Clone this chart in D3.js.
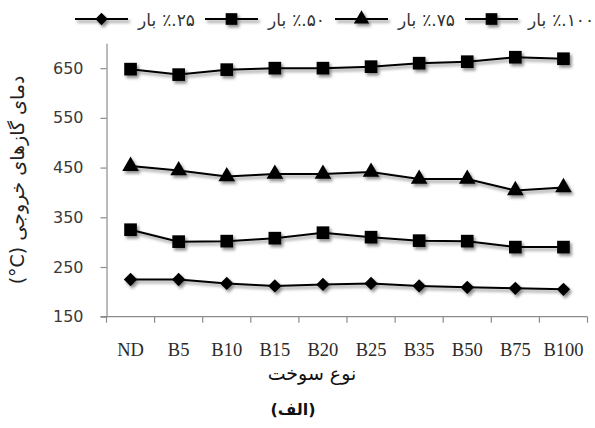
<!DOCTYPE html>
<html>
<head>
<meta charset="utf-8">
<script src="https://cdn.jsdelivr.net/npm/d3@7"></script>
<style>
  html, body { margin: 0; padding: 0; background: #fff; }
  svg { display: block; }
</style>
</head>
<body>
<svg id="chart" width="595" height="428"></svg>
<script>
// Fuel blends on the x axis
const categories = ["ND", "B5", "B10", "B15", "B20", "B25", "B35", "B50", "B75", "B100"];

// Exhaust gas temperature (°C) at each engine load
const load25  = [225, 225, 217, 212, 215, 217, 212, 209, 207, 205];
const load50  = [325, 301, 302, 308, 319, 310, 303, 302, 290, 290];
const load75  = [453, 444, 432, 437, 437, 441, 427, 427, 404, 410];
const load100 = [648, 637, 647, 650, 650, 653, 660, 663, 672, 669];

// Legend labels: word and percentage drawn side by side
const legendWords   = ["بار", "بار", "بار", "بار"];
const legendPercent = ["٪.۲۵", "٪.۵۰", "٪.۷۵", "٪.۱۰۰"];

const yTicks = [150, 250, 350, 450, 550, 650];

const series = [
  { values: load25,  symbol: d3.symbolDiamond2, size: 115 },
  { values: load50,  symbol: d3.symbolSquare,   size: 160 },
  { values: load75,  symbol: d3.symbolTriangle, size: 120 },
  { values: load100, symbol: d3.symbolSquare,   size: 160 }
];

const svg = d3.select("#chart");

// soft drop shadow under lines and markers
const defs = svg.append("defs");
const f = defs.append("filter").attr("id", "shadow")
  .attr("x", "-30%").attr("y", "-30%").attr("width", "160%").attr("height", "160%");
f.append("feDropShadow").attr("dx", 2).attr("dy", 2.5)
  .attr("stdDeviation", 1.6).attr("flood-color", "#000").attr("flood-opacity", 0.45);

const x = d3.scaleBand().domain(categories).range([106.5, 587.5]).padding(0);
const y = d3.scaleLinear().domain([150, 700]).range([316.7, 43.3]);
const cx = c => x(c) + x.bandwidth() / 2;

const axisColor = "#8c8c8c";

// y axis
const yAxis = svg.append("g").attr("transform", `translate(${x.range()[0]},0)`)
  .call(d3.axisLeft(y).tickValues(yTicks).tickSize(6).tickSizeOuter(0).tickPadding(17));
yAxis.select(".domain").attr("stroke", axisColor).attr("stroke-width", 1.2);
yAxis.selectAll(".tick line").attr("stroke", axisColor).attr("stroke-width", 1.2);
yAxis.selectAll(".tick text")
  .attr("font-family", "DejaVu Sans, Verdana, sans-serif")
  .attr("font-size", 16).attr("fill", "#3a3a3a");

// x axis baseline and tick marks at band boundaries
const xg = svg.append("g");
xg.append("line")
  .attr("x1", x.range()[0] - 6).attr("x2", x.range()[1])
  .attr("y1", y(150)).attr("y2", y(150))
  .attr("stroke", axisColor).attr("stroke-width", 1.2);
const bounds = categories.map(c => x(c)).concat([x.range()[1]]);
xg.selectAll("line.tk").data(bounds).enter().append("line").attr("class", "tk")
  .attr("x1", d => d).attr("x2", d => d)
  .attr("y1", y(150)).attr("y2", y(150) + 6)
  .attr("stroke", axisColor).attr("stroke-width", 1.2);
xg.selectAll("text").data(categories).enter().append("text")
  .attr("x", d => cx(d)).attr("y", 356)
  .attr("text-anchor", "middle")
  .attr("font-family", "Liberation Serif, Times New Roman, serif")
  .attr("font-size", 18.5).attr("fill", "#2a2a2a")
  .text(d => d);

// series lines and markers
const line = d3.line().x((d, i) => cx(categories[i])).y(d => y(d));
const plot = svg.append("g").attr("filter", "url(#shadow)");
series.forEach(s => {
  plot.append("path").datum(s.values)
    .attr("d", line).attr("fill", "none")
    .attr("stroke", "#000").attr("stroke-width", 2);
  plot.selectAll(null).data(s.values).enter().append("path")
    .attr("d", d3.symbol().type(s.symbol).size(s.size))
    .attr("transform", (d, i) => `translate(${cx(categories[i])},${y(d)})`)
    .attr("fill", "#000");
});

// legend across the top
const legend = svg.append("g").attr("filter", "url(#shadow)");
const legendText = svg.append("g");
series.forEach((s, i) => {
  const x0 = 75 + i * 130, ly = 19;
  legend.append("line").attr("x1", x0).attr("x2", x0 + 53)
    .attr("y1", ly).attr("y2", ly).attr("stroke", "#000").attr("stroke-width", 2);
  legend.append("path")
    .attr("d", d3.symbol().type(s.symbol).size(s.size * 0.85))
    .attr("transform", `translate(${x0 + 26.5},${ly})`).attr("fill", "#000");
  const w = legendText.append("text")
    .attr("x", x0 + 63).attr("y", ly + 7)
    .attr("font-family", "DejaVu Sans, sans-serif").attr("font-size", 17)
    .attr("fill", "#333").text(legendWords[i]);
  const ww = w.node().getComputedTextLength();
  legendText.append("text")
    .attr("x", x0 + 63 + ww + 6).attr("y", ly + 7)
    .attr("direction", "ltr")
    .attr("font-family", "DejaVu Sans, sans-serif").attr("font-size", 17)
    .attr("fill", "#333").text(legendPercent[i]);
});

// axis titles
svg.append("text")
  .attr("transform", `translate(24,${(y(150) + y(700)) / 2 + 0}) rotate(-90)`)
  .attr("text-anchor", "middle")
  .attr("font-family", "DejaVu Sans, sans-serif").attr("font-size", 19)
  .attr("fill", "#222")
  .text("(°C) دمای گازهای خروجی");

svg.append("text")
  .attr("x", 312).attr("y", 380).attr("text-anchor", "middle")
  .attr("font-family", "DejaVu Sans, sans-serif").attr("font-size", 19)
  .attr("fill", "#111").text("نوع سوخت");

svg.append("text")
  .attr("x", 293).attr("y", 415).attr("text-anchor", "middle")
  .attr("font-family", "DejaVu Sans, sans-serif").attr("font-size", 16)
  .attr("font-weight", "bold").attr("fill", "#111").text("(الف)");
</script>
</body>
</html>
